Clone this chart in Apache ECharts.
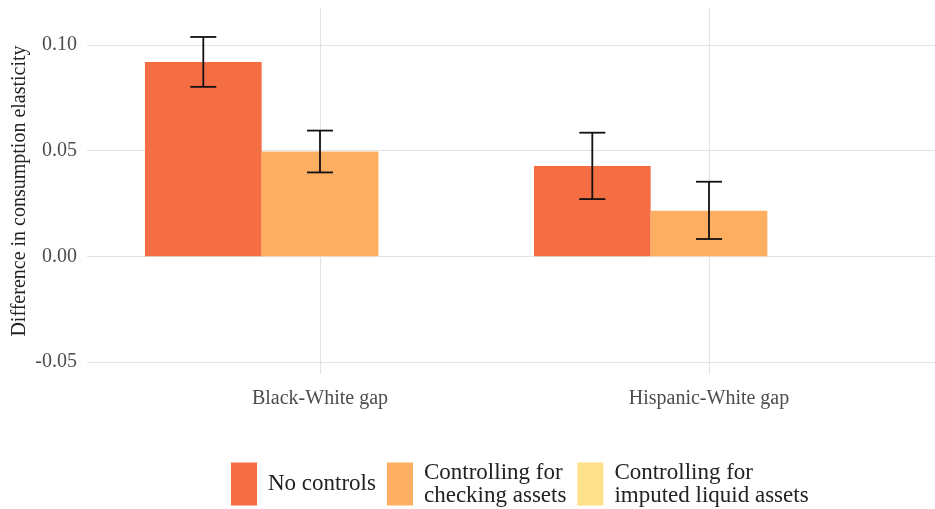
<!DOCTYPE html>
<html>
<head>
<meta charset="utf-8">
<script src="https://cdn.jsdelivr.net/npm/echarts@6/dist/echarts.min.js"></script>
<style>
  html, body { margin: 0; padding: 0; background: #fff; }
  #chart { width: 935px; height: 509px; }
</style>
</head>
<body>
<div id="chart"></div>
<script>
const categories = ['Black-White gap', 'Hispanic-White gap']
const seriesNames = ['No controls', 'Controlling for\nchecking assets', 'Controlling for\nimputed liquid assets']
const colors = ['#F46D43', '#FDAE61', '#FEE08B']

const noControls = [0.0919, 0.0427]
const noControlsLow = [0.0802, 0.0271]
const noControlsHigh = [0.1038, 0.0585]

const checking = [0.0496, 0.0216]
const checkingLow = [0.0397, 0.0082]
const checkingHigh = [0.0595, 0.0353]

const imputed = ['-', '-']

const yTicksMin = -0.05
const yTicksMax = 0.10
const yStep = 0.05

// panel geometry (px from top of the 509px canvas)
const H = 509
const PANEL_TOP = 8
const PANEL_BOTTOM = 374
const TICK_TOP = 45      // where 0.10 sits
const TICK_BOTTOM = 362  // where -0.05 sits
const ppu = (TICK_BOTTOM - TICK_TOP) / (yTicksMax - yTicksMin)
const panelMax = yTicksMax + (TICK_TOP - PANEL_TOP) / ppu
const panelMin = yTicksMin - (PANEL_BOTTOM - TICK_BOTTOM) / ppu

const FONT = "'Liberation Serif', 'Times New Roman', serif"
const GRID_COLOR = '#e3e3e3'

const chart = echarts.init(document.getElementById('chart'), null, { renderer: 'canvas' })

function errorSeries(low, high, offset) {
  return {
    type: 'custom',
    xAxisIndex: 0,
    yAxisIndex: 0,
    z: 4,
    silent: true,
    data: categories.map((c, i) => [i, low[i], high[i]]),
    encode: { x: 0, y: [1, 2] },
    renderItem: (params, api) => {
      const cat = api.value(0)
      const lo = api.coord([cat, api.value(1)])
      const hi = api.coord([cat, api.value(2)])
      const band = api.size([1, 0])[0]
      const x = lo[0] + offset * band
      const cap = 13
      const style = { stroke: '#111', lineWidth: 1.8 }
      return {
        type: 'group',
        children: [
          { type: 'line', shape: { x1: x, y1: lo[1], x2: x, y2: hi[1] }, style },
          { type: 'line', shape: { x1: x - cap, y1: hi[1], x2: x + cap, y2: hi[1] }, style },
          { type: 'line', shape: { x1: x - cap, y1: lo[1], x2: x + cap, y2: lo[1] }, style },
        ],
      }
    },
  }
}

const option = {
  animation: false,
  textStyle: { fontFamily: FONT },
  grid: [
    { left: 125.5, width: 778, top: PANEL_TOP, bottom: H - PANEL_BOTTOM },
    { left: 87, right: 0, top: TICK_TOP, bottom: H - TICK_BOTTOM },
  ],
  xAxis: [
    {
      type: 'category',
      gridIndex: 0,
      data: categories,
      axisLine: { show: false },
      axisTick: { show: false },
      splitLine: { show: false },
      axisLabel: { color: '#4D4D4D', fontSize: 20, fontFamily: FONT, margin: 15 },
    },
    { type: 'value', gridIndex: 1, min: 0, max: 1, show: false },
  ],
  yAxis: [
    {
      type: 'value',
      gridIndex: 0,
      min: panelMin,
      max: panelMax,
      axisLine: { show: false },
      axisTick: { show: false },
      axisLabel: { show: false },
      splitLine: { show: false },
      name: 'Difference in consumption elasticity',
      nameLocation: 'middle',
      nameRotate: 90,
      nameGap: 96,
      nameTextStyle: { color: '#222', fontSize: 20, fontFamily: FONT },
    },
    {
      type: 'value',
      gridIndex: 1,
      min: yTicksMin,
      max: yTicksMax,
      interval: yStep,
      axisLine: { show: false },
      axisTick: { show: false },
      axisLabel: {
        color: '#4D4D4D',
        fontSize: 20,
        fontFamily: FONT,
        margin: 10,
        padding: [3, 0, 0, 0],
        formatter: (v) => v.toFixed(2),
      },
      splitLine: { lineStyle: { color: GRID_COLOR, width: 1.2 } },
    },
  ],
  legend: {
    data: seriesNames,
    left: 231,
    top: 461,
    padding: 0,
    itemWidth: 26,
    itemHeight: 43,
    itemGap: 11,
    icon: 'rect',
    textStyle: { color: '#222', fontSize: 23, fontFamily: FONT, lineHeight: 23, padding: [0, 0, 0, 6] },
  },
  series: [
    {
      name: seriesNames[0],
      type: 'bar',
      xAxisIndex: 0,
      yAxisIndex: 0,
      data: noControls,
      barWidth: '30%',
      barGap: '0%',
      itemStyle: { color: colors[0] },
    },
    {
      name: seriesNames[1],
      type: 'bar',
      xAxisIndex: 0,
      yAxisIndex: 0,
      data: checking,
      barWidth: '30%',
      barGap: '0%',
      itemStyle: { color: colors[1] },
      // middle series sits on the category centre, so its markLine gives the vertical grid
      markLine: {
        silent: true,
        symbol: 'none',
        z: 1,
        label: { show: false },
        lineStyle: { color: GRID_COLOR, width: 1.2, type: 'solid' },
        data: categories.map((c) => ({ xAxis: c })),
      },
    },
    {
      name: seriesNames[2],
      type: 'bar',
      xAxisIndex: 0,
      yAxisIndex: 0,
      data: imputed,
      barWidth: '30%',
      barGap: '0%',
      itemStyle: { color: colors[2] },
    },
    errorSeries(noControlsLow, noControlsHigh, -0.3),
    errorSeries(checkingLow, checkingHigh, 0),
  ],
}

chart.setOption(option)
</script>
</body>
</html>
